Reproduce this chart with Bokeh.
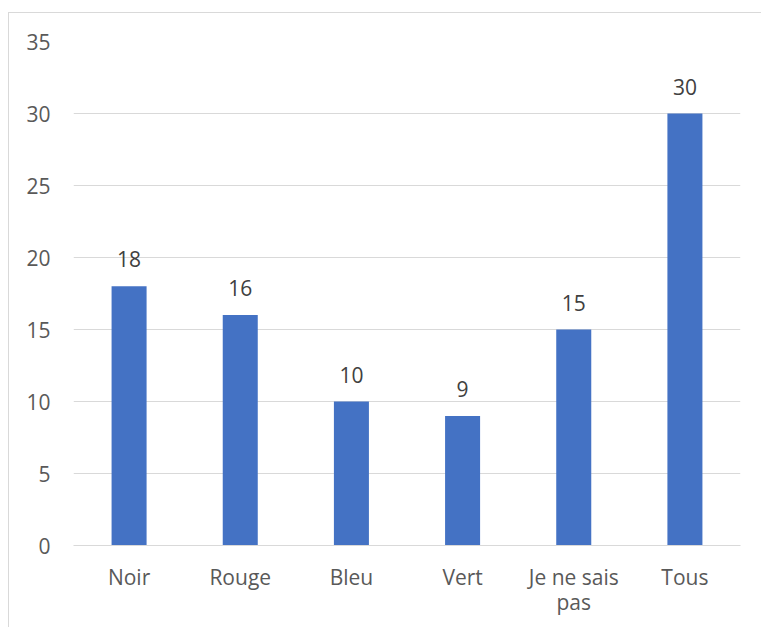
from bokeh.plotting import figure
from bokeh.models import ColumnDataSource, FixedTicker, Range1d, FactorRange
from bokeh.embed import file_html
from bokeh.resources import INLINE
from bokeh.core.properties import value

categories = ["Noir", "Rouge", "Bleu", "Vert", "Je ne sais\npas", "Tous"]
counts = [18, 16, 10, 9, 15, 30]
y_ticks = [0, 5, 10, 15, 20, 25, 30, 35]

FONT = "Open Sans"
TXT = "#595959"

src = ColumnDataSource(dict(cat=categories, val=counts, lab=[str(v) for v in counts]))

p = figure(x_range=FactorRange(*categories, range_padding=0), y_range=Range1d(0, 35),
           width=753, height=615, output_backend="svg", toolbar_location=None,
           min_border_left=64, min_border_right=22, min_border_top=28, min_border_bottom=83)
p.styles = {"margin-left": "8px", "margin-top": "12px",
            "border-left": "1px solid #d9d9d9", "border-top": "1px solid #d9d9d9"}

p.vbar(x="cat", top="val", width=0.315, source=src, color="#4472C4", line_color=None)
p.text(x="cat", y="val", text="lab", source=src, text_align="center", text_baseline="alphabetic",
       y_offset=-27, text_font=value(FONT), text_font_size="21px", text_color="#404040")

p.outline_line_color = None
p.xgrid.grid_line_color = None
p.ygrid.grid_line_color = "#d9d9d9"
p.ygrid.grid_line_width = 1
p.yaxis.ticker = FixedTicker(ticks=y_ticks)
p.yaxis.axis_line_color = None
p.yaxis.major_tick_line_color = None
p.yaxis.minor_tick_line_color = None
p.yaxis.major_label_standoff = 17
p.xaxis.axis_line_color = "#d9d9d9"
p.xaxis.major_tick_line_color = None
p.xaxis.major_label_standoff = 11
p.xaxis.major_label_text_line_height = 0.9
for ax in (p.xaxis, p.yaxis):
    ax.major_label_text_font = FONT
    ax.major_label_text_font_size = "21px"
    ax.major_label_text_color = TXT

open("out.html", "w").write(file_html(p, INLINE))
